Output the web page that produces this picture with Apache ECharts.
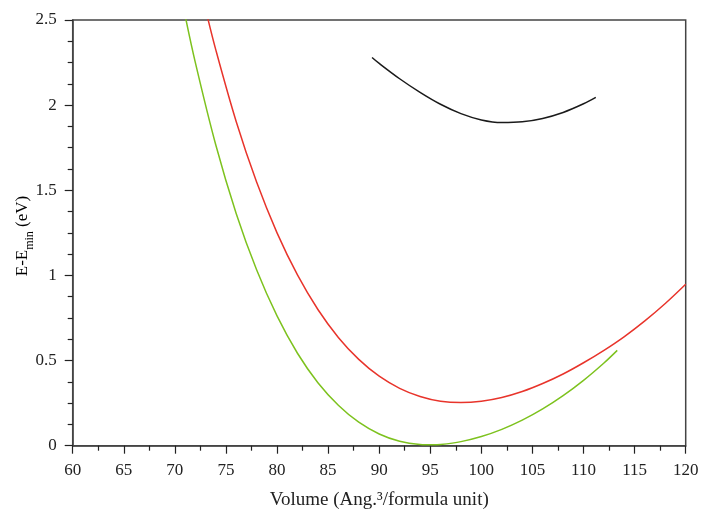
<!DOCTYPE html>
<html>
<head>
<meta charset="utf-8">
<script src="https://cdn.jsdelivr.net/npm/echarts@6/dist/echarts.min.js"></script>
<style>html,body{margin:0;padding:0;background:#fff}#c{width:703px;height:512px}</style>
</head>
<body>
<div id="c"></div>
<script>
// Volume (Ang.^3/formula unit)
const greenV = [70.9, 72, 74, 76, 78, 80, 82, 84, 86, 88, 90, 92, 94, 95.2, 96, 98, 100, 102, 104, 106, 108, 110, 112, 113.3];
const greenE = [2.556, 2.251, 1.767, 1.364, 1.033, 0.762, 0.543, 0.370, 0.238, 0.138, 0.069, 0.026, 0.007, 0.005, 0.007, 0.024, 0.054, 0.096, 0.150, 0.216, 0.294, 0.384, 0.486, 0.560];

const redV = [73, 74, 76, 78, 80, 82, 84, 86, 88, 90, 92, 94, 96, 98, 100, 102, 104, 106, 108, 110, 112, 114, 116, 118, 120];
const redE = [2.565, 2.326, 1.904, 1.548, 1.250, 1.003, 0.800, 0.636, 0.507, 0.408, 0.337, 0.289, 0.261, 0.253, 0.261, 0.283, 0.318, 0.365, 0.421, 0.487, 0.560, 0.641, 0.733, 0.835, 0.948];

const blackV = [89.3, 90, 92, 94, 96, 98, 100, 102, 104, 106, 108, 110, 111.2];
const blackE = [2.28, 2.245, 2.155, 2.075, 2.005, 1.950, 1.913, 1.898, 1.902, 1.922, 1.957, 2.008, 2.046];

const xTicks = {min: 60, max: 120, step: 5};
const yTicks = {min: 0, max: 2.5, step: 0.5};

const pairs = (xs, ys) => xs.map((x, i) => [x, ys[i]]);
const FONT = 'Liberation Serif';
const AX = '#444';

const chart = echarts.init(document.getElementById('c'), null, {renderer: 'canvas'});
chart.setOption({
  animation: false,
  backgroundColor: '#fff',
  grid: {left: 72.7, right: 17.3, top: 20, bottom: 66.3, containLabel: false, outerBoundsMode: 'none',
         show: true, borderColor: AX, borderWidth: 1.5, backgroundColor: 'transparent'},
  xAxis: {
    type: 'value', min: xTicks.min, max: xTicks.max, interval: xTicks.step,
    axisLine: {show: true, lineStyle: {color: AX, width: 1.5}},
    axisTick: {show: true, inside: false, length: 8, lineStyle: {color: '#222', width: 1.2}},
    minorTick: {show: true, splitNumber: 2, length: 5, lineStyle: {color: '#222', width: 1.2}},
    splitLine: {show: false},
    axisLabel: {margin: 16, color: '#222', fontFamily: FONT, fontSize: 17},
    name: 'Volume (Ang.\u00B3/formula unit)', nameLocation: 'middle', nameGap: 45,
    nameTextStyle: {color: '#222', fontFamily: FONT, fontSize: 19}
  },
  yAxis: {
    type: 'value', min: yTicks.min, max: yTicks.max, interval: yTicks.step,
    axisLine: {show: true, lineStyle: {color: AX, width: 1.5}},
    axisTick: {show: true, inside: false, length: 8, lineStyle: {color: '#222', width: 1.2}},
    minorTick: {show: true, splitNumber: 4, length: 5, lineStyle: {color: '#222', width: 1.2}},
    splitLine: {show: false},
    axisLabel: {margin: 16, color: '#222', fontFamily: FONT, fontSize: 17}
  },
  graphic: [{
    type: 'text', x: 23, y: 236, rotation: Math.PI / 2,
    style: {
      text: '{a|E-E}{s|min}{a| (eV)}',
      align: 'center', verticalAlign: 'middle',
      rich: {
        a: {fontFamily: FONT, fontSize: 17, color: '#222', lineHeight: 26, verticalAlign: 'middle'},
        s: {fontFamily: FONT, fontSize: 12, color: '#222', lineHeight: 12, verticalAlign: 'bottom'}
      }
    }
  }],
  series: [
    {type: 'line', data: pairs(greenV, greenE), showSymbol: false, symbol: 'none', smooth: 0.35, clip: true,
     lineStyle: {color: '#7dc21e', width: 1.5}},
    {type: 'line', data: pairs(redV, redE), showSymbol: false, symbol: 'none', smooth: 0.35, clip: true,
     lineStyle: {color: '#e8342b', width: 1.5}},
    {type: 'line', data: pairs(blackV, blackE), showSymbol: false, symbol: 'none', smooth: 0.35, clip: true,
     lineStyle: {color: '#1a1a1a', width: 1.5}}
  ]
});
</script>
</body>
</html>
